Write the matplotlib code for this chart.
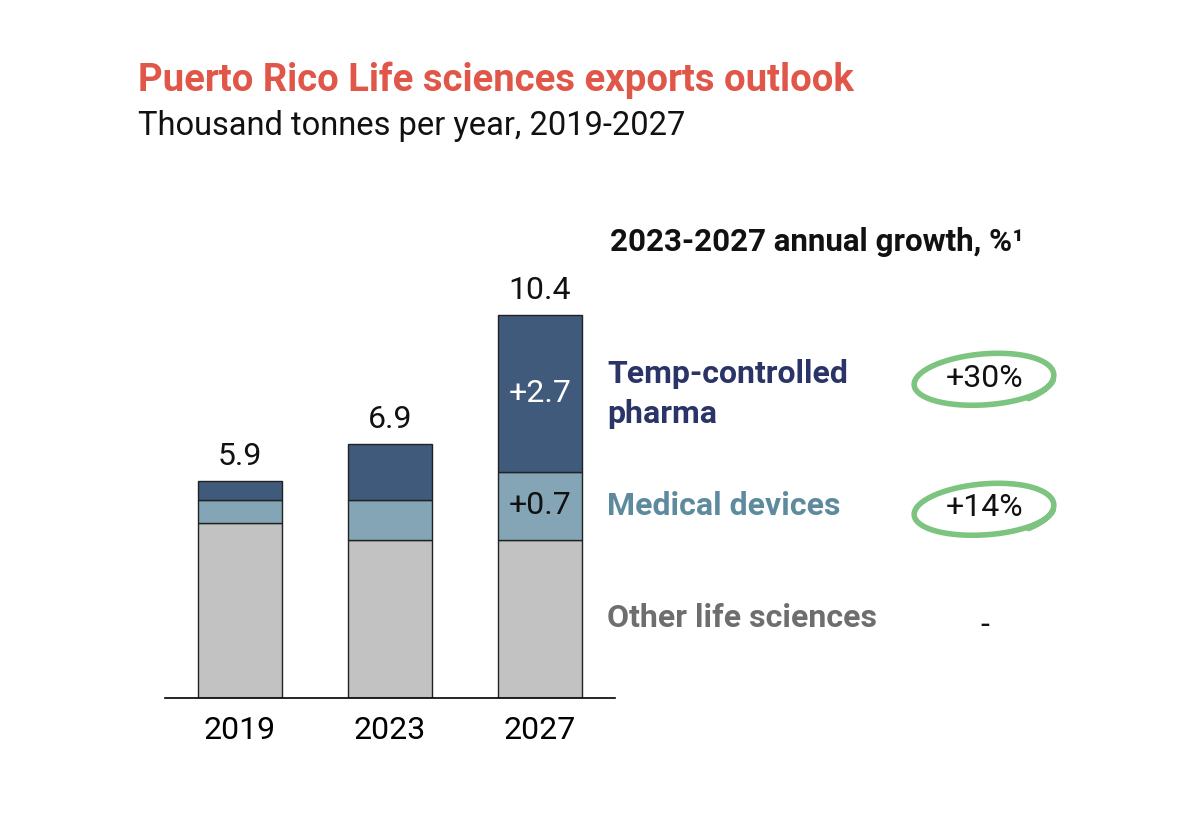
import numpy as np
import matplotlib.pyplot as plt

plt.rcParams['font.family'] = ['Roboto', 'DejaVu Sans']

# data
years = ['2019', '2023', '2027']
other = [4.75, 4.3, 4.3]
medical = [0.62, 1.08, 1.85]
pharma = [0.53, 1.52, 4.25]
totals = ['5.9', '6.9', '10.4']
deltas_pharma = ['', '', '+2.7']
deltas_medical = ['', '', '+0.7']
segments = ['Temp-controlled\npharma', 'Medical devices', 'Other life sciences']
growth = ['+30%', '+14%', '-']

c_other = '#C3C2C3'
c_med = '#84A5B5'
c_pharma = '#3F5A7A'

fig = plt.figure(figsize=(12.04, 8.25), dpi=100)
ax = fig.add_axes([165/1204, 127/825, 450/1204, 11*36.8/825])

x = np.arange(len(years))
w = 0.56
ax.bar(x, other, w, color=c_other, edgecolor='#222222', linewidth=1)
ax.bar(x, medical, w, bottom=other, color=c_med, edgecolor='#222222', linewidth=1)
bot3 = np.array(other) + np.array(medical)
ax.bar(x, pharma, w, bottom=bot3, color=c_pharma, edgecolor='#222222', linewidth=1)

for i in range(len(years)):
    top = other[i] + medical[i] + pharma[i]
    ax.text(x[i], top + 0.28, totals[i], ha='center', va='bottom', fontsize=23, color='#111111')
    if deltas_pharma[i]:
        ax.text(x[i], bot3[i] + pharma[i]/2, deltas_pharma[i], ha='center', va='center',
                fontsize=23, color='white')
    if deltas_medical[i]:
        ax.text(x[i], other[i] + medical[i]/2, deltas_medical[i], ha='center', va='center',
                fontsize=23, color='#111111')

ax.set_xlim(-0.5, 2.5)
ax.set_ylim(0, 11)
ax.set_xticks(x)
ax.set_xticklabels(years, fontsize=23)
ax.tick_params(axis='x', length=0, pad=13)
ax.set_yticks([])
for s in ['top', 'right', 'left']:
    ax.spines[s].set_visible(False)
ax.spines['bottom'].set_linewidth(1.2)

# titles
fig.text(138/1204, 1 - 80/825, 'Puerto Rico Life sciences exports outlook', fontsize=27.5,
         fontweight='bold', color='#E0574A', va='center', ha='left')
fig.text(138/1204, 1 - 126/825, 'Thousand tonnes per year, 2019-2027', fontsize=23.5,
         color='#111111', va='center', ha='left')

# right side legend
fig.text(610/1204, 1 - 242/825, '2023-2027 annual growth, %¹', fontsize=22.5,
         fontweight='bold', color='#111111', va='center', ha='left')
seg_colors = ['#2B3466', '#5E8A9E', '#6E6E6E']
seg_y = [394, 506, 618]
for lab, col, yy in zip(segments, seg_colors, seg_y):
    fig.text(607/1204, 1 - yy/825, lab, fontsize=23, fontweight='bold', color=col,
             va='center', ha='left', linespacing=1.38)

g_y = [378, 508, 625]
for g, yy in zip(growth, g_y):
    fig.text(985/1204, 1 - yy/825, g, fontsize=23, color='#111111', va='center', ha='center')

# hand-drawn green loops round the growth numbers
t = np.linspace(0.2, 2*np.pi + 0.9, 300)
for yy in g_y[:2]:
    cx, cy = 986, yy + 2
    rx = 68 + 4*np.sin(t*0.5)
    ry = 24 + 3*(t/(2*np.pi))
    ang = np.deg2rad(-4)
    px = rx*np.cos(t)
    py = ry*np.sin(t)
    qx = cx + px*np.cos(ang) - py*np.sin(ang)
    qy = cy + px*np.sin(ang) + py*np.cos(ang)
    fig.add_artist(plt.Line2D(qx/1204, 1 - qy/825, color='#7CC47F', lw=4,
                              solid_capstyle='round', transform=fig.transFigure))

fig.savefig('out.png', dpi=100, facecolor='white')
